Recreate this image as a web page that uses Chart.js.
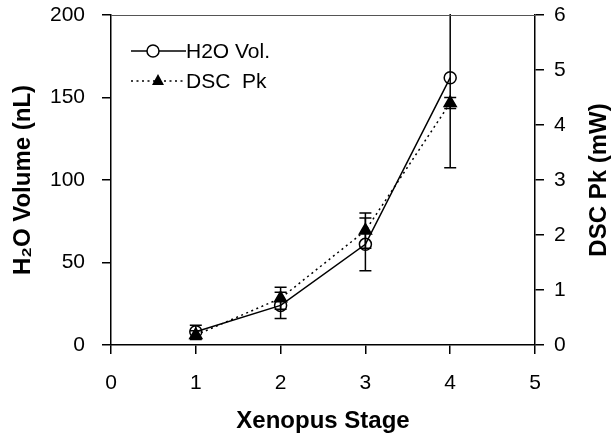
<!DOCTYPE html>
<html>
<head>
<meta charset="utf-8">
<script src="https://cdn.jsdelivr.net/npm/chart.js@4/dist/chart.umd.min.js"></script>
<style>
  html, body { margin: 0; padding: 0; background: #fff; }
  #wrap { width: 611px; height: 436px; }
</style>
</head>
<body>
<div id="wrap"><canvas id="c" width="611" height="436"></canvas></div>
<script>
const stages = [1, 2, 3, 4];
const h2oVol = [8, 24, 61, 162];
const h2oErr = [4, 8, 16, 54.5];
const dscPk = [0.18, 0.85, 2.08, 4.4];
const dscErr = [0.08, 0.2, 0.32, 0.1];

const xTicks = [0, 1, 2, 3, 4, 5];
const leftTicks = [0, 50, 100, 150, 200];
const rightTicks = [0, 1, 2, 3, 4, 5, 6];

const font = "'Liberation Sans', Arial, sans-serif";

// error bars drawn through the scales
const errorBars = {
  id: 'errorBars',
  beforeDatasetsDraw(chart) {
    const ctx = chart.ctx, a = chart.chartArea;
    const sx = chart.scales.x;
    ctx.save();
    ctx.beginPath();
    ctx.rect(a.left, a.top - 1, a.right - a.left, a.bottom - a.top + 2);
    ctx.clip();
    ctx.strokeStyle = '#000';
    ctx.lineWidth = 1.5;
    const draw = (vals, errs, scale) => {
      vals.forEach((v, i) => {
        const px = sx.getPixelForValue(stages[i]);
        const top = scale.getPixelForValue(v + errs[i]);
        const bot = scale.getPixelForValue(v - errs[i]);
        ctx.beginPath();
        ctx.moveTo(px, top); ctx.lineTo(px, bot);
        ctx.moveTo(px - 6, top); ctx.lineTo(px + 6, top);
        ctx.moveTo(px - 6, bot); ctx.lineTo(px + 6, bot);
        ctx.stroke();
      });
    };
    draw(h2oVol, h2oErr, chart.scales.y);
    draw(dscPk, dscErr, chart.scales.y1);
    ctx.restore();
  }
};

// top frame line, right axis title and legend inside plot
const frameLegend = {
  id: 'frameLegend',
  afterDraw(chart) {
    const ctx = chart.ctx, a = chart.chartArea;
    ctx.save();
    ctx.strokeStyle = '#555';
    ctx.lineWidth = 1;
    ctx.beginPath();
    ctx.moveTo(a.left, a.top + 0.5); ctx.lineTo(a.right, a.top + 0.5);
    ctx.stroke();

    // right title, reading bottom to top
    ctx.save();
    ctx.translate(599, (a.top + a.bottom) / 2);
    ctx.rotate(-Math.PI / 2);
    ctx.fillStyle = '#000';
    ctx.font = 'bold 24px ' + font;
    ctx.textAlign = 'center';
    ctx.textBaseline = 'middle';
    ctx.fillText('DSC Pk (mW)', 0, 0);
    ctx.restore();

    const x0 = a.left + 20, x1 = a.left + 75, y0 = a.top + 36, y1 = a.top + 66;
    ctx.strokeStyle = '#000';
    ctx.lineWidth = 1.5;
    ctx.beginPath(); ctx.moveTo(x0, y0); ctx.lineTo(x1, y0); ctx.stroke();
    ctx.beginPath(); ctx.arc(a.left + 42, y0, 6, 0, Math.PI * 2);
    ctx.fillStyle = '#fff'; ctx.fill(); ctx.stroke();

    ctx.setLineDash([2, 3.5]);
    ctx.beginPath(); ctx.moveTo(x0, y1); ctx.lineTo(x1, y1); ctx.stroke();
    ctx.setLineDash([]);
    ctx.fillStyle = '#000';
    const tx = a.left + 47;
    ctx.beginPath();
    ctx.moveTo(tx, y1 - 7); ctx.lineTo(tx + 6, y1 + 4); ctx.lineTo(tx - 6, y1 + 4);
    ctx.closePath(); ctx.fill();

    ctx.font = '21px ' + font;
    ctx.textBaseline = 'middle';
    ctx.fillText('H2O Vol.', x1, y0 + 1);
    ctx.fillText('DSC  Pk', x1, y1 + 1);
    ctx.restore();
  }
};

const tickFont = { family: font, size: 21 };
const titleFont = { family: font, size: 24, weight: 'bold' };

function fixWidth(w) {
  return s => { s.width = w; s.paddingTop = 0; s.paddingBottom = 0; };
}

new Chart(document.getElementById('c'), {
  type: 'line',
  data: {
    datasets: [
      {
        label: 'H2O Vol.',
        data: stages.map((s, i) => ({ x: s, y: h2oVol[i] })),
        yAxisID: 'y',
        borderColor: '#000',
        borderWidth: 1.5,
        pointStyle: 'circle',
        pointRadius: 6,
        pointBackgroundColor: 'rgba(255,255,255,0)',
        pointBorderColor: '#000',
        pointBorderWidth: 1.5,
        tension: 0
      },
      {
        label: 'DSC  Pk',
        data: stages.map((s, i) => ({ x: s, y: dscPk[i] })),
        yAxisID: 'y1',
        borderColor: '#000',
        borderWidth: 1.5,
        borderDash: [2, 3.5],
        pointStyle: 'triangle',
        pointRadius: 7,
        pointBackgroundColor: '#000',
        pointBorderColor: '#000',
        tension: 0
      }
    ]
  },
  options: {
    responsive: false,
    animation: false,
    layout: { padding: { top: 15, right: 0, bottom: 0, left: 0 } },
    plugins: { legend: { display: false }, tooltip: { enabled: false } },
    scales: {
      x: {
        type: 'linear', min: 0, max: 5,
        afterBuildTicks: s => { s.ticks = xTicks.map(v => ({ value: v })); },
        afterFit: s => { s.height = 91; s.paddingLeft = 0; s.paddingRight = 0; },
        ticks: { font: tickFont, color: '#000', padding: 17 },
        grid: { drawOnChartArea: false, tickLength: 9, color: '#000', lineWidth: 1.5 },
        border: { color: '#000', width: 1.5 },
        title: { display: true, text: 'Xenopus Stage', font: titleFont, color: '#000', padding: { top: 0, bottom: 0 } }
      },
      y: {
        type: 'linear', position: 'left', min: 0, max: 200,
        afterBuildTicks: s => { s.ticks = leftTicks.map(v => ({ value: v })); },
        afterFit: fixWidth(111),
        ticks: { font: tickFont, color: '#000', padding: 17 },
        grid: { drawOnChartArea: false, tickLength: 9, color: '#000', lineWidth: 1.5 },
        border: { color: '#000', width: 1.5 },
        title: { display: true, text: 'H\u2082O Volume (nL)', font: titleFont, color: '#000', padding: { top: 9, bottom: 0 } }
      },
      y1: {
        type: 'linear', position: 'right', min: 0, max: 6,
        afterBuildTicks: s => { s.ticks = rightTicks.map(v => ({ value: v })); },
        afterFit: fixWidth(76),
        ticks: { font: tickFont, color: '#000', padding: 10 },
        grid: { drawOnChartArea: false, tickLength: 9, color: '#000', lineWidth: 1.5 },
        border: { color: '#000', width: 1.5 },
        title: { display: false }
      }
    }
  },
  plugins: [errorBars, frameLegend]
});
</script>
</body>
</html>
